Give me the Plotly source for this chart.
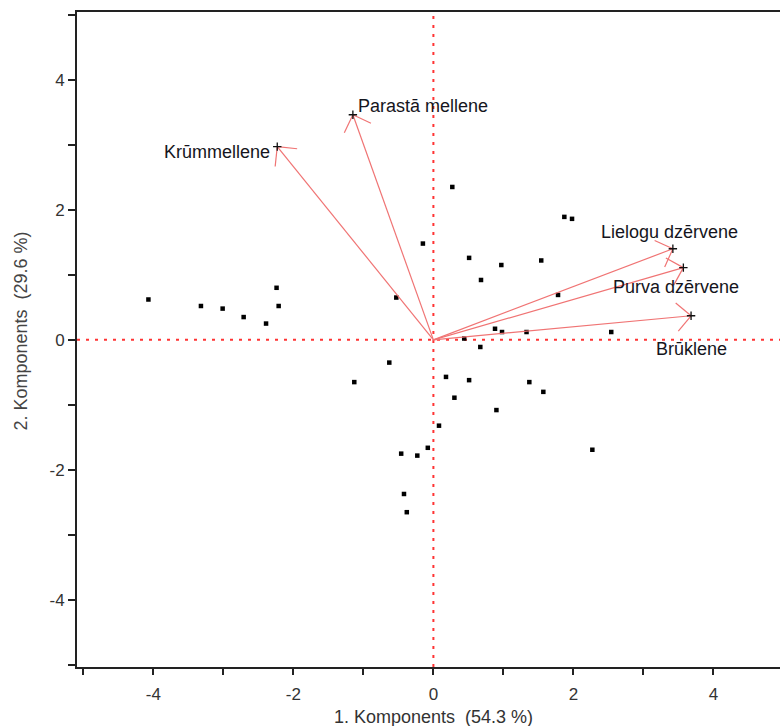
import numpy as np
import plotly.graph_objects as go

# ---- data ----
score_x = [-4.07, -3.32, -3.01, -2.71, -2.39, -2.24, -2.21, -0.53, -0.15, 0.27,
           1.87, 1.98, 0.51, 0.97, 1.54, 0.68, 1.78, 0.88, 0.98, 1.33,
           2.54, 0.67, 0.44, -0.63, -1.13, 0.18, 0.51, 1.37, 1.57, 0.30,
           0.90, 0.08, -0.08, -0.46, -0.23, 2.27, -0.42, -0.38]
score_y = [0.62, 0.52, 0.48, 0.35, 0.25, 0.80, 0.52, 0.65, 1.48, 2.35,
           1.89, 1.86, 1.26, 1.15, 1.22, 0.92, 0.69, 0.17, 0.12, 0.12,
           0.12, -0.11, 0.02, -0.35, -0.65, -0.57, -0.62, -0.65, -0.80, -0.89,
           -1.08, -1.32, -1.66, -1.75, -1.78, -1.69, -2.37, -2.65]

var_names = ["Parastā mellene", "Krūmmellene", "Lielogu dzērvene", "Purva dzērvene", "Brūklene"]
load_x = [-1.15, -2.23, 3.42, 3.57, 3.68]
load_y = [3.46, 2.97, 1.40, 1.11, 0.37]

x_title = "1. Komponents\u00a0 (54.3 %)"
y_title = "2. Komponents\u00a0 (29.6 %)"
x_ticks = list(range(-5, 5))
y_ticks = list(range(-5, 6))

# ---- layout constants ----
W, H = 780, 726
ML, MR, MT, MB = 77, 0, 12, 59
XR = [-5.09, 4.95]
YR = [-5.03, 5.04]
FONT = "Liberation Sans, Arial, sans-serif"
ARROW_COL = "#f07474"

kx = (W - ML - MR) / (XR[1] - XR[0])
ky = (H - MT - MB) / (YR[1] - YR[0])

# arrow shafts
ax, ay = [], []
for tx, ty in zip(load_x, load_y):
    ax += [0, tx, None]
    ay += [0, ty, None]

# arrow heads (open V, computed in pixel space)
hx, hy = [], []
L = 20.0
for tx, ty in zip(load_x, load_y):
    dx, dy = -tx * kx, -ty * ky
    n = np.hypot(dx, dy)
    ux, uy = dx / n, dy / n
    for ang in (np.pi / 4, -np.pi / 4):
        rx = ux * np.cos(ang) - uy * np.sin(ang)
        ry = ux * np.sin(ang) + uy * np.cos(ang)
        hx += [tx, tx + rx * L / kx, None]
        hy += [ty, ty + ry * L / ky, None]

fig = go.Figure()
fig.add_trace(go.Scatter(x=score_x, y=score_y, mode="markers",
                         marker=dict(symbol="square", size=4.5, color="black"),
                         hoverinfo="skip", showlegend=False))
fig.add_trace(go.Scatter(x=ax, y=ay, mode="lines",
                         line=dict(color=ARROW_COL, width=1.2),
                         hoverinfo="skip", showlegend=False))
fig.add_trace(go.Scatter(x=hx, y=hy, mode="lines",
                         line=dict(color=ARROW_COL, width=1.2),
                         hoverinfo="skip", showlegend=False))
fig.add_trace(go.Scatter(x=load_x, y=load_y, mode="markers",
                         marker=dict(symbol="cross-thin", size=6,
                                     line=dict(width=1.3, color="#111")),
                         hoverinfo="skip", showlegend=False))

# variable labels: (xanchor, xshift, yshift)
label_pos = [("left", 3, 9), ("right", -5, -5), ("center", -3, 17),
             ("center", -7, -19), ("center", 0, -33)]
for name, tx, ty, (xa, xs, ys) in zip(var_names, load_x, load_y, label_pos):
    fig.add_annotation(x=tx, y=ty, xref="x", yref="y", text=name, showarrow=False,
                       xanchor=xa, yanchor="middle", xshift=xs, yshift=ys,
                       font=dict(family=FONT, size=18, color="#151520"))

# reference lines
dot = dict(color="#ff3333", width=2, dash="3px,6px")
fig.add_shape(type="line", xref="x", yref="paper", x0=0, x1=0, y0=0, y1=1,
              line=dot, layer="below")
fig.add_shape(type="line", xref="paper", yref="y", x0=0, x1=1, y0=0, y1=0,
              line=dot, layer="below")

# axis titles
fig.add_annotation(x=0, y=0, xref="x", yref="paper", text=x_title, showarrow=False,
                   xanchor="center", yanchor="middle", yshift=-50,
                   font=dict(family=FONT, size=18, color="#333"))
fig.add_annotation(x=0, y=0.5, xref="paper", yref="paper", text=y_title, showarrow=False,
                   textangle=-90, xanchor="center", yanchor="middle", xshift=-57, yshift=8,
                   font=dict(family=FONT, size=18, color="#444"))

fig.update_layout(
    width=W, height=H,
    margin=dict(l=ML, r=MR, t=MT, b=MB),
    plot_bgcolor="white", paper_bgcolor="white",
    font=dict(family=FONT, size=17, color="#333"),
    xaxis=dict(range=XR, showgrid=False, zeroline=False,
               showline=True, linecolor="#222", linewidth=2, mirror=True,
               ticks="outside", ticklen=6, tickwidth=1.5, tickcolor="#222",
               ticklabelstandoff=5,
               tickvals=x_ticks,
               ticktext=[str(v) if v % 2 == 0 else "" for v in x_ticks],
               tickfont=dict(family=FONT, size=17, color="#333")),
    yaxis=dict(range=YR, showgrid=False, zeroline=False,
               showline=True, linecolor="#222", linewidth=2,
               ticks="outside", ticklen=7, tickwidth=1.5, tickcolor="#222",
               tickvals=y_ticks,
               ticktext=[str(v) if v % 2 == 0 and abs(v) < 5 else "" for v in y_ticks],
               tickfont=dict(family=FONT, size=17, color="#333")),
)

fig.write_html("out.html",
               config={"displayModeBar": False},
               post_script="document.body.style.margin='0';document.body.style.overflow='hidden';")
